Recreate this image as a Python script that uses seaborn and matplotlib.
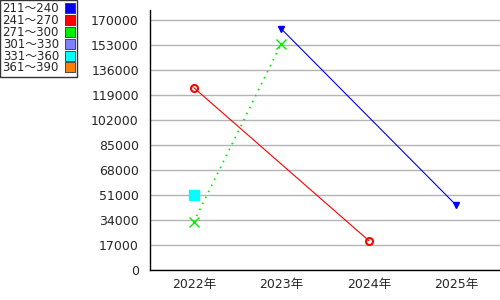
import numpy as np
import pandas as pd
import matplotlib
matplotlib.use("Agg")
import matplotlib.pyplot as plt
from matplotlib.lines import Line2D
import seaborn as sns

years = ["2022年", "2023年", "2024年", "2025年"]
series_labels = ["211～240", "241～270", "271～300", "301～330", "331～360", "361～390"]
s211_240 = [np.nan, 164000, np.nan, 44000]
s241_270 = [124000, np.nan, 20000, np.nan]
s271_300 = [32600, 154000, np.nan, np.nan]
s301_330 = [np.nan, np.nan, np.nan, np.nan]
s331_360 = [51000, np.nan, np.nan, np.nan]
s361_390 = [np.nan, np.nan, np.nan, np.nan]
yticks = [0, 17000, 34000, 51000, 68000, 85000, 102000, 119000, 136000, 153000, 170000]

colors = ["#0000ee", "#ff0000", "#00ee00", "#8080ff", "#00ffff", "#ff8000"]
styles = [
    dict(marker="v", ms=5, mfc="#0000ee", mec="#0000ee", ls="-", lw=0.8),
    dict(marker="o", ms=5, mfc="none", mec="#ff0000", mew=1.5, ls="-", lw=0.8),
    dict(marker="x", ms=7, mfc="none", mec="#00ee00", mew=1.0, ls=(0, (1, 3)), lw=1.2),
    dict(marker="D", ms=6, mfc="#8080ff", mec="#8080ff", ls="-", lw=0.8),
    dict(marker="s", ms=7, mfc="#00ffff", mec="#00ffff", ls="-", lw=0.8),
    dict(marker="^", ms=6, mfc="#ff8000", mec="#ff8000", ls="-", lw=0.8),
]

sns.set_style("white")
plt.rcParams["font.family"] = ["DejaVu Sans", "Noto Sans CJK JP"]

fig = plt.figure(figsize=(5, 3), dpi=100)
ax = fig.add_axes([0.30, 0.10, 0.70, 0.8667])

all_series = [s211_240, s241_270, s271_300, s301_330, s331_360, s361_390]
for lab, vals, col, st in zip(series_labels, all_series, colors, styles):
    df = pd.DataFrame({"x": np.arange(len(years)), "y": vals}).dropna()
    if df.empty:
        continue
    sns.lineplot(data=df, x="x", y="y", ax=ax, color=col, linewidth=st["lw"],
                 linestyle=st["ls"], legend=False)
    ax.plot(df["x"], df["y"], ls="none", marker=st["marker"], ms=st["ms"],
            mfc=st["mfc"], mec=st["mec"], mew=st.get("mew", 1.0), zorder=5)

ax.set_xlim(-0.5, 3.5)
ax.set_ylim(0, 176800)
ax.set_yticks(yticks)
ax.set_yticklabels([str(v) for v in yticks], fontsize=9)
ax.set_xticks([-0.5, 0.5, 1.5, 2.5])
ax.set_xticklabels([])
ax.set_xticks(np.arange(len(years)), minor=True)
ax.set_xticklabels(years, minor=True, fontsize=9)
ax.tick_params(axis="x", which="major", length=6, width=1, color="black", direction="out")
ax.tick_params(axis="x", which="minor", length=0, pad=6)
ax.tick_params(axis="y", length=6, width=1, color="black", direction="out", pad=2)
ax.yaxis.grid(True, color="#b4b4b4", linewidth=1)
ax.xaxis.grid(False)
ax.set_axisbelow(True)
for side in ["top", "right"]:
    ax.spines[side].set_visible(False)
for side in ["left", "bottom"]:
    ax.spines[side].set_color("black")
    ax.spines[side].set_linewidth(1)
ax.set_xlabel("")
ax.set_ylabel("")

handles = [Line2D([], [], ls="none", marker="s", ms=6.5, mfc=c, mec="#333333", mew=0.6)
           for c in colors]
leg = fig.legend(handles, series_labels, loc="upper left", bbox_to_anchor=(0.0, 1.0),
                 fontsize=8.5, markerfirst=False, frameon=True, fancybox=False,
                 borderpad=0.2, labelspacing=-0.1, handlelength=0.8, handletextpad=0.5,
                 borderaxespad=0.0)
leg.get_frame().set_edgecolor("black")
leg.get_frame().set_linewidth(1)

fig.savefig("out.png", dpi=100)
